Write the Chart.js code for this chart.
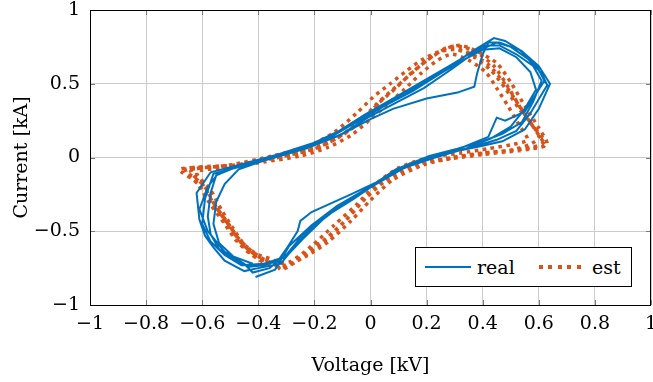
<!DOCTYPE html>
<html>
<head>
<meta charset="utf-8">
<script src="https://cdn.jsdelivr.net/npm/chart.js@4.4.1/dist/chart.umd.min.js"></script>
<style>
    body { margin: 0; background: #fff; }
    #wrap { position: relative; width: 653px; height: 382px; }
    #legend {
        position: absolute; left: 415px; top: 247px; width: 217px; height: 40px;
        border: 1px solid #000; background: #fff; box-sizing: border-box;
        font-family: 'DejaVu Serif', serif; font-size: 19px; color: #000;
    }
    #legend .item { position: absolute; top: 7px; line-height: 24px; }
    #legend .swatch { position: absolute; }
</style>
</head>
<body>
<div id="wrap">
    <canvas id="loopChart" width="653" height="382"></canvas>
    <div id="legend">
        <div class="swatch" style="left:9px; top:18px; width:46px; height:2px; background:#0072BD;"></div>
        <div class="item" style="left:61px;">real</div>
        <div class="swatch" style="left:123px; top:17px; width:44px; height:4px; background:repeating-linear-gradient(90deg, #D95319 0 4px, transparent 4px 9.5px);"></div>
        <div class="item" style="left:176px;">est</div>
    </div>
</div>
<script>
// measured trace, five cycles (voltage in kV, current in kA)
const realVoltage = [
    -0.41,-0.34,-0.29,-0.21,-0.12,-0.03,0.07,0.20,0.30,0.40,0.47,0.55,0.60,0.64,
    0.60,0.54,0.48,0.44,0.38,0.30,0.20,0.10,0.00,-0.10,-0.20,-0.33,-0.45,-0.57,
    -0.62,-0.61,-0.59,-0.56,-0.52,-0.45,

    -0.40,-0.32,-0.26,-0.19,-0.10,-0.01,0.09,0.21,0.31,0.40,0.47,0.54,0.58,0.61,
    0.58,0.52,0.46,0.41,0.35,0.28,0.18,0.08,-0.02,-0.12,-0.22,-0.34,-0.46,-0.55,
    -0.57,-0.58,-0.57,-0.54,-0.48,-0.43,

    -0.38,-0.33,-0.30,-0.26,-0.25,-0.21,-0.07,0.03,0.12,0.22,0.33,0.42,0.45,0.48,0.55,0.59,0.62,
    0.59,0.53,0.46,0.42,0.40,0.38,0.37,0.31,0.20,0.08,0.00,-0.10,-0.22,-0.35,-0.47,-0.54,
    -0.58,-0.61,-0.58,-0.52,-0.45,

    -0.42,-0.36,-0.30,-0.24,-0.16,-0.06,0.04,0.14,0.25,0.36,0.45,0.52,0.57,0.62,0.63,
    0.61,0.56,0.50,0.45,0.37,0.29,0.19,0.09,-0.01,-0.11,-0.23,-0.36,-0.48,-0.56,
    -0.59,-0.60,-0.57,-0.52,-0.46,

    -0.38,-0.30,-0.24,-0.17,-0.08,0.02,0.12,0.23,0.34,0.43,0.50,0.55,0.59,
    0.57,0.52,0.46,0.40,0.33,0.25,0.15,0.05,-0.05,-0.15,-0.27,-0.38,-0.47,-0.52,
    -0.55,-0.56,-0.54,-0.49,-0.42
];
const realCurrent = [
    -0.81,-0.76,-0.60,-0.46,-0.33,-0.23,-0.11,-0.01,0.04,0.08,0.11,0.19,0.33,0.50,
    0.62,0.72,0.79,0.81,0.74,0.64,0.52,0.41,0.30,0.19,0.10,0.02,-0.04,-0.10,
    -0.24,-0.42,-0.53,-0.61,-0.70,-0.77,

    -0.75,-0.72,-0.58,-0.44,-0.31,-0.21,-0.08,0.01,0.06,0.11,0.16,0.24,0.38,0.52,
    0.62,0.70,0.76,0.76,0.70,0.62,0.51,0.40,0.29,0.17,0.08,0.01,-0.05,-0.12,
    -0.24,-0.40,-0.52,-0.62,-0.70,-0.74,

    -0.73,-0.70,-0.62,-0.50,-0.43,-0.37,-0.25,-0.16,-0.06,0.01,0.07,0.14,0.27,0.25,0.31,0.43,0.52,
    0.63,0.73,0.78,0.78,0.70,0.57,0.48,0.44,0.40,0.33,0.26,0.16,0.07,0.00,-0.06,-0.10,
    -0.20,-0.35,-0.50,-0.64,-0.72,

    -0.78,-0.75,-0.66,-0.52,-0.40,-0.28,-0.15,-0.04,0.02,0.07,0.12,0.18,0.30,0.46,0.49,
    0.57,0.67,0.75,0.78,0.71,0.60,0.47,0.37,0.27,0.15,0.06,-0.01,-0.07,-0.11,
    -0.28,-0.45,-0.57,-0.66,-0.73,

    -0.72,-0.67,-0.55,-0.42,-0.29,-0.18,-0.07,0.00,0.06,0.13,0.21,0.33,0.46,
    0.58,0.68,0.74,0.73,0.66,0.57,0.45,0.35,0.24,0.13,0.04,-0.02,-0.08,-0.18,
    -0.30,-0.45,-0.58,-0.67,-0.72
];

// estimated trace, five cycles
const estVoltage = [
    -0.31,-0.25,-0.17,-0.09,-0.02,0.06,0.18,0.28,0.40,0.50,0.58,0.63,
    0.60,0.55,0.50,0.45,0.38,0.32,0.27,
    0.21,0.15,0.09,0.03,-0.03,-0.11,-0.20,-0.33,-0.51,-0.68,
    -0.62,-0.57,-0.52,-0.48,-0.43,-0.37,

    -0.30,-0.23,-0.15,-0.07,0.00,0.08,0.19,0.30,0.41,0.51,0.58,0.62,
    0.58,0.53,0.48,0.43,0.37,0.31,0.25,
    0.19,0.13,0.07,0.01,-0.05,-0.13,-0.22,-0.35,-0.50,-0.64,
    -0.59,-0.55,-0.50,-0.46,-0.41,-0.35,

    -0.29,-0.21,-0.13,-0.05,0.02,0.10,0.21,0.32,0.42,0.51,0.56,
    0.53,0.49,0.45,0.41,0.35,0.29,0.24,
    0.18,0.12,0.06,0.00,-0.07,-0.15,-0.25,-0.38,-0.52,-0.62,
    -0.57,-0.53,-0.49,-0.45,-0.40,-0.34,

    -0.32,-0.26,-0.18,-0.10,-0.03,0.05,0.16,0.27,0.39,0.49,0.57,0.62,
    0.59,0.54,0.49,0.44,0.38,0.33,0.28,
    0.23,0.17,0.11,0.05,-0.01,-0.09,-0.18,-0.31,-0.48,-0.66,
    -0.60,-0.56,-0.51,-0.47,-0.42,-0.36,

    -0.30,-0.24,-0.16,-0.08,-0.01,0.07,0.18,0.29,0.40,0.50,0.57,0.60,
    0.57,0.52,0.47,0.42,0.36,0.30,0.26,
    0.20,0.14,0.08,0.02,-0.04,-0.12,-0.21,-0.34,-0.50,-0.66,
    -0.61,-0.56,-0.51,-0.47,-0.42,-0.36,-0.31
];
const estCurrent = [
    -0.75,-0.68,-0.57,-0.43,-0.28,-0.15,-0.04,-0.01,0.02,0.04,0.06,0.09,
    0.20,0.35,0.51,0.64,0.72,0.76,0.74,
    0.67,0.58,0.47,0.37,0.25,0.14,0.06,0.00,-0.06,-0.08,
    -0.17,-0.32,-0.45,-0.56,-0.65,-0.72,

    -0.73,-0.67,-0.57,-0.43,-0.29,-0.15,-0.05,0.00,0.03,0.05,0.07,0.11,
    0.21,0.33,0.47,0.59,0.68,0.73,0.72,
    0.67,0.59,0.50,0.41,0.30,0.17,0.08,0.01,-0.05,-0.09,
    -0.20,-0.34,-0.47,-0.58,-0.66,-0.71,

    -0.71,-0.60,-0.46,-0.32,-0.18,-0.07,0.00,0.03,0.06,0.09,0.12,
    0.22,0.35,0.47,0.58,0.66,0.70,0.66,
    0.57,0.46,0.36,0.26,0.15,0.07,0.01,-0.03,-0.07,-0.10,
    -0.22,-0.36,-0.48,-0.59,-0.66,-0.70,

    -0.76,-0.70,-0.59,-0.45,-0.30,-0.16,-0.05,-0.01,0.02,0.04,0.06,0.08,
    0.18,0.32,0.48,0.62,0.71,0.75,0.75,
    0.70,0.61,0.51,0.41,0.29,0.17,0.08,0.01,-0.05,-0.08,
    -0.18,-0.31,-0.44,-0.55,-0.64,-0.71,

    -0.74,-0.66,-0.55,-0.41,-0.26,-0.13,-0.04,0.00,0.03,0.05,0.09,0.14,
    0.24,0.38,0.52,0.63,0.70,0.74,0.73,
    0.66,0.56,0.46,0.36,0.24,0.13,0.05,0.00,-0.06,-0.09,
    -0.19,-0.33,-0.46,-0.57,-0.66,-0.72,-0.75
];

const axisMin = -1;
const axisMax = 1;
const xStep = 0.2;
const yStep = 0.5;

const toPoints = (xs, ys) => xs.map((x, i) => ({ x: x, y: ys[i] }));

function tickText(value) {
    const v = Number(value.toFixed(1));
    if (v === 0) return '0';
    return v < 0 ? '\u2212' + String(-v) : String(v);
}

// black box round the plot plus short inward tick marks on all four sides
const frame = {
    id: 'frame',
    afterDatasetsDraw(chart) {
        const { ctx, chartArea: a, scales } = chart;
        ctx.save();
        ctx.strokeStyle = '#7a7a7a';
        ctx.lineWidth = 1;
        ctx.beginPath();
        scales.x.ticks.forEach((t, i) => {
            const px = Math.round(scales.x.getPixelForTick(i)) + 0.5;
            ctx.moveTo(px, a.bottom); ctx.lineTo(px, a.bottom - 5);
            ctx.moveTo(px, a.top); ctx.lineTo(px, a.top + 5);
        });
        scales.y.ticks.forEach((t, i) => {
            const py = Math.round(scales.y.getPixelForTick(i)) + 0.5;
            ctx.moveTo(a.left, py); ctx.lineTo(a.left + 5, py);
            ctx.moveTo(a.right, py); ctx.lineTo(a.right - 5, py);
        });
        ctx.stroke();
        ctx.strokeStyle = '#000';
        ctx.strokeRect(Math.round(a.left) + 0.5, Math.round(a.top) + 0.5,
            Math.round(a.right - a.left) - 1, Math.round(a.bottom - a.top));
        ctx.restore();
    }
};

Chart.defaults.font.family = "'DejaVu Serif', serif";
Chart.defaults.font.size = 19;
Chart.defaults.color = '#000';

new Chart(document.getElementById('loopChart'), {
    type: 'scatter',
    data: {
        datasets: [
            {
                label: 'real',
                data: toPoints(realVoltage, realCurrent),
                showLine: true,
                borderColor: '#0072BD',
                borderWidth: 2,
                pointRadius: 0,
                tension: 0
            },
            {
                label: 'est',
                data: toPoints(estVoltage, estCurrent),
                showLine: true,
                borderColor: '#D95319',
                borderWidth: 3.5,
                borderDash: [3.5, 4.5],
                borderCapStyle: 'butt',
                pointRadius: 0,
                tension: 0.25
            }
        ]
    },
    plugins: [frame],
    options: {
        responsive: false,
        animation: false,
        layout: { padding: { left: 0, right: 2, top: 10, bottom: 0 } },
        plugins: {
            legend: { display: false },
            tooltip: { enabled: false }
        },
        scales: {
            x: {
                type: 'linear',
                min: axisMin,
                max: axisMax,
                border: { display: false },
                grid: { color: '#cccccc', lineWidth: 1, drawTicks: false },
                ticks: { stepSize: xStep, padding: 8, maxRotation: 0, callback: v => tickText(v) },
                title: { display: true, text: 'Voltage [kV]', padding: { top: 0, bottom: 5 } },
                afterFit(scale) {
                    scale.height = 77;
                    scale.paddingLeft = 0;
                    scale.paddingRight = 0;
                }
            },
            y: {
                type: 'linear',
                min: axisMin,
                max: axisMax,
                border: { display: false },
                grid: { color: '#cccccc', lineWidth: 1, drawTicks: false },
                ticks: { stepSize: yStep, padding: 10, callback: v => tickText(v) },
                title: { display: true, text: 'Current [kA]', padding: { top: 11, bottom: 0 } },
                afterFit(scale) {
                    scale.width = 90;
                    scale.paddingTop = 0;
                    scale.paddingBottom = 0;
                }
            }
        }
    }
});
</script>
</body>
</html>
